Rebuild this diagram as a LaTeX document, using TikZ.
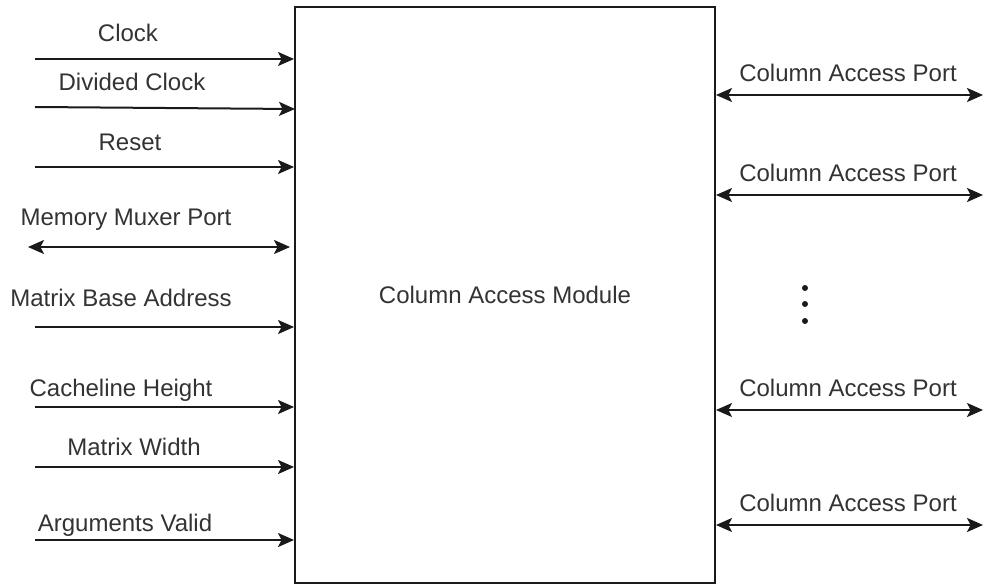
\documentclass[tikz,border=0pt]{standalone}
\usepackage{fontspec}
\setmainfont{Liberation Sans}
\usetikzlibrary{arrows}
\usetikzlibrary{arrows.meta}

\definecolor{txtgray}{HTML}{333333}
\definecolor{linegray}{HTML}{1A1A1A}

\begin{document}
\begin{tikzpicture}[x=0.5pt, y=-0.5pt,
    sig/.style = {draw=linegray, line width=1pt, -{Stealth[length=8pt,width=7pt,inset=1.8pt]}},
    bus/.style = {draw=linegray, line width=1pt, {Stealth[length=8pt,width=7pt,inset=1.8pt]}-{Stealth[length=8pt,width=7pt,inset=1.8pt]}},
    lbl/.style = {text=txtgray, font=\fontsize{12}{14}\selectfont, inner sep=0pt}]
    \useasboundingbox (0,0) rectangle (984,588);

    % module block
    \node[draw=linegray, line width=1pt, minimum width=210pt, minimum height=288pt,
          lbl] (cam) at (505,295) {Column Access Module};

    % inputs on the left
    \coordinate (clkin)  at (35,59);
    \coordinate (dclkin) at (35,107);
    \coordinate (dclkto) at (295,109);
    \coordinate (rstin)  at (35,167);
    \coordinate (memin)  at (28,247);
    \coordinate (memto)  at (290,247);
    \coordinate (addrin) at (35,327);
    \coordinate (chin)   at (35,407);
    \coordinate (wdin)   at (35,467);
    \coordinate (valin)  at (35,540);

    \draw[sig] (clkin)  -- (clkin -| cam.west);
    \draw[sig] (dclkin) -- (dclkto);
    \draw[sig] (rstin)  -- (rstin -| cam.west);
    \draw[bus] (memin)  -- (memto);
    \draw[sig] (addrin) -- (addrin -| cam.west);
    \draw[sig] (chin)   -- (chin -| cam.west);
    \draw[sig] (wdin)   -- (wdin -| cam.west);
    \draw[sig] (valin)  -- (valin -| cam.west);

    \node[lbl] (clk)  at (128,33)  {Clock};
    \node[lbl] (dclk) at (132,82)  {Divided Clock};
    \node[lbl] (rst)  at (130,142) {Reset};
    \node[lbl] (mem)  at (126,220) {Memory Muxer Port};
    \node[lbl] (addr) at (121,298) {Matrix Base Address};
    \node[lbl] (ch)   at (121,390) {Cacheline Height};
    \node[lbl] (wd)   at (134,447) {Matrix Width};
    \node[lbl] (val)  at (125,525) {Arguments Valid};

    % column ports on the right
    \foreach \y/\n in {95/pa, 195/pb, 410/pc, 525/pd} {
        \coordinate (\n out) at (983,\y);
        \draw[bus] (\n out -| cam.east) -- (\n out);
        \node[lbl] (\n) at (848,\y-22) {Column Access Port};
    }

    % more ports
    \foreach \y in {288,304,321}
        \fill[linegray] (805,\y) circle (1.5pt);

\end{tikzpicture}
\end{document}
